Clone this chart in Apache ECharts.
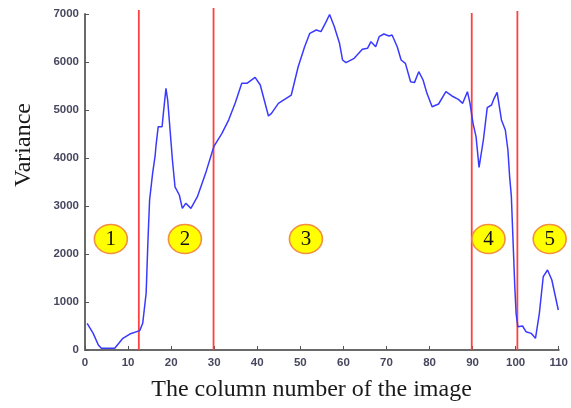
<!DOCTYPE html>
<html>
<head>
<meta charset="utf-8">
<script src="https://cdn.jsdelivr.net/npm/echarts@6/dist/echarts.min.js"></script>
<style>html,body{margin:0;padding:0;background:#fff;}#c{width:571px;height:408px;}</style>
</head>
<body>
<div id="c"></div>
<script>
// Column positions (x) and variance values
var columns = [0.5,1.9,3.1,3.8,6.9,8.8,10.4,12.7,13.4,14.2,14.6,15.0,15.7,16.3,16.5,17.0,17.9,18.2,18.8,19.2,20.3,20.9,21.9,22.6,23.4,24.6,26.1,28.0,29.9,31.8,33.4,34.9,36.4,37.6,39.5,40.7,42.6,43.3,44.9,47.9,49.5,51.0,52.2,53.7,54.8,56.0,56.8,57.9,59.1,59.8,60.6,62.5,64.4,65.6,66.4,67.5,68.3,69.4,70.6,71.3,72.5,73.4,74.4,75.6,76.5,77.5,78.5,79.4,80.6,82.1,83.8,85.2,86.7,87.7,88.8,89.4,90.1,90.8,91.5,92.5,93.4,94.4,95.0,95.7,96.7,97.6,98.2,98.6,99.0,99.8,100.1,100.5,101.6,102.4,103.6,104.6,105.5,106.4,107.4,108.4,109.9];
var variance = [556,347,104,35,35,243,333,403,556,1187,2229,3125,3680,4062,4270,4652,4652,4930,5450,5208,3958,3400,3229,2950,3056,2950,3194,3680,4236,4514,4800,5150,5556,5556,5680,5520,4875,4930,5139,5312,5902,6319,6597,6667,6632,6840,6990,6736,6389,6042,5986,6076,6264,6285,6424,6319,6528,6583,6542,6562,6319,6042,5972,5590,5570,5798,5625,5347,5069,5125,5382,5292,5222,5139,5382,5139,4722,4444,3806,4375,5049,5104,5243,5368,4792,4583,4167,3611,3200,1320,764,486,500,382,347,243,764,1527,1667,1458,833];
// Region boundaries (vertical red lines) and their top ends
var boundaries = [12.5, 29.85, 89.8, 100.4];
var boundaryTops = [7083, 7125, 7020, 7063];
// Region markers
var regionLabels = ['1','2','3','4','5'];
var regionX = [6.0, 23.2, 51.3, 93.7, 107.9];
var regionY = [2312, 2312, 2312, 2312, 2312];
// Axis ticks
var xTicks = [0,10,20,30,40,50,60,70,80,90,100,110];
var yTicks = [0,1000,2000,3000,4000,5000,6000,7000];

var chart = echarts.init(document.getElementById('c'), null, {renderer:'canvas'});
var curve = columns.map(function(x,i){return [x, variance[i]];});
var series = [{
  type:'line', data:curve, symbol:'none', smooth:false,
  lineStyle:{color:'#3a3aff', width:1.5}, z:3, animation:false
}];
boundaries.forEach(function(b,i){
  series.push({type:'line', data:[[b,0],[b,boundaryTops[i]]], symbol:'none', clip:false,
    lineStyle:{color:'#ff4040', width:1.8}, z:2, animation:false});
});
series.push({
  type:'scatter', z:5, animation:false, clip:false,
  data: regionX.map(function(x,i){return {value:[x, regionY[i]], name:regionLabels[i]};}),
  symbol:'circle', symbolSize:[33,29],
  itemStyle:{color:'#ffff00', borderColor:'#f39040', borderWidth:1.5, opacity:1},
  label:{show:true, position:'inside', formatter:function(p){return p.name;},
    fontFamily:'Liberation Serif', fontSize:21, color:'#111'}
});

var labelStyle = {fontFamily:'Liberation Sans', fontWeight:'bold', fontSize:11.5, color:'#47475f'};
chart.setOption({
  animation:false,
  backgroundColor:'#fff',
  grid:{left:85, right:8, top:14, bottom:58, containLabel:false},
  xAxis:{type:'value', min:0, max:110, interval:10,
    axisLine:{show:true, lineStyle:{color:'#6a6a6a', width:2}},
    axisTick:{show:true, inside:true, length:4, lineStyle:{color:'#555', width:1}},
    axisLabel:Object.assign({margin:7, formatter:function(v){return xTicks.indexOf(v)>=0?String(v):'';}}, labelStyle),
    splitLine:{show:false}},
  yAxis:{type:'value', min:0, max:7000, interval:1000,
    axisLine:{show:true, lineStyle:{color:'#6a6a6a', width:2}},
    axisTick:{show:true, inside:true, length:4, lineStyle:{color:'#555', width:1}},
    axisLabel:Object.assign({margin:6, formatter:function(v){return yTicks.indexOf(v)>=0?String(v):'';}}, labelStyle),
    splitLine:{show:false}},
  graphic:[
    {type:'text', left:null, x:311.5, y:390, style:{text:'The column number of the image', font:'24px "Liberation Serif"', fill:'#1a1a1a', textAlign:'center', textVerticalAlign:'middle'}},
    {type:'text', x:23.5, y:145, rotation:Math.PI/2, style:{text:'Variance', font:'24px "Liberation Serif"', fill:'#1a1a1a', textAlign:'center', textVerticalAlign:'middle'}}
  ],
  series:series
});
</script>
</body>
</html>
